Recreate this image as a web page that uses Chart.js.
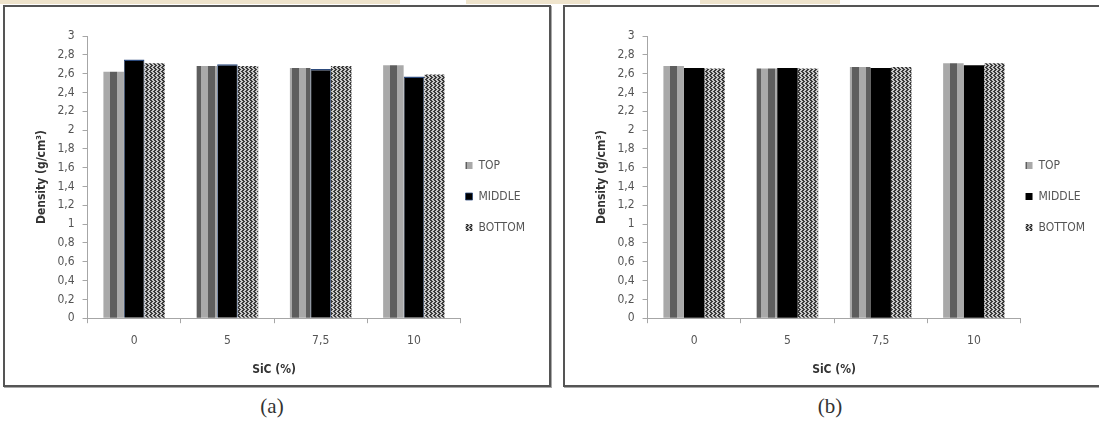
<!DOCTYPE html>
<html>
<head>
<meta charset="utf-8">
<script src="https://cdn.jsdelivr.net/npm/chart.js@4.4.1/dist/chart.umd.min.js"></script>
<style>
   body { margin: 0; width: 1099px; height: 431px; overflow: hidden; background: #fff; position: relative; }
   .strip { position: absolute; top: 0; height: 4px; background: #efe4cc; }
   .panel { position: absolute; top: 5px; width: 548px; height: 382px; box-sizing: border-box; border: 2px solid #555; box-shadow: 1px 1px 0 #aaa; }
   .panel canvas { position: absolute; left: 0; top: 0; }
   .cap { position: absolute; top: 394px; width: 60px; text-align: center; font-family: "Liberation Serif", serif; font-size: 21px; color: #333; }
</style>
</head>
<body>
<div class="strip" style="left:0;width:400px"></div>
<div class="strip" style="left:466px;width:124px"></div>
<div class="strip" style="left:700px;width:140px"></div>

<div class="panel" style="left:3px"><canvas id="chartA" width="544" height="378"></canvas></div>
<div class="panel" style="left:563px"><canvas id="chartB" width="544" height="378"></canvas></div>
<div class="cap" style="left:242px">(a)</div>
<div class="cap" style="left:800px">(b)</div>

<script>
// SiC content categories
const sicLabels = ["0", "5", "7,5", "10"];
const seriesNames = ["TOP", "MIDDLE", "BOTTOM"];

// panel (a)
const topA = [2.62, 2.68, 2.66, 2.69];
const middleA = [2.75, 2.70, 2.65, 2.57];
const bottomA = [2.71, 2.68, 2.68, 2.59];

// panel (b)
const topB = [2.68, 2.655, 2.67, 2.71];
const middleB = [2.66, 2.66, 2.66, 2.69];
const bottomB = [2.655, 2.655, 2.67, 2.71];

const narrow = "'Liberation Sans Narrow', 'DejaVu Sans Condensed', Arial, sans-serif";

function makePattern(w, h, paint) {
   let c = document.createElement("canvas");
   c.width = w;
   c.height = h;
   let g = c.getContext("2d");
   paint(g);
   return g.createPattern(c, "repeat");
}

// grey vertical stripes for TOP
const stripes = makePattern(14, 1, g => {
   g.fillStyle = "#a9a9a9";
   g.fillRect(0, 0, 7, 1);
   g.fillStyle = "#5e5e5e";
   g.fillRect(7, 0, 7, 1);
});

// small zigzag for BOTTOM
const zig = [0, 1, 2, 1];
const checks = makePattern(4, 4, g => {
   g.fillStyle = "#c8c8c8";
   g.fillRect(0, 0, 4, 4);
   g.fillStyle = "#3a3a3a";
   for (let y = 0; y < 4; y++) {
      for (let x = 0; x < 4; x++) {
         if ((x - zig[y] + 4) % 4 < 2) g.fillRect(x, y, 1, 1);
      }
   }
});

// move the legend next to the plot, like the original
const nudgeLegend = {
   id: "nudgeLegend",
   afterLayout(chart) {
      let lg = chart.legend;
      lg.left -= 14; lg.right -= 14;
      lg.top -= 10; lg.bottom -= 10;
   }
};

function makeChart(id, topVals, midVals, botVals, midBorder) {
   let ctx = document.getElementById(id).getContext("2d");
   return new Chart(ctx, {
      type: "bar",
      data: {
         labels: sicLabels,
         datasets: [{
            label: seriesNames[0],
            data: topVals,
            backgroundColor: stripes
         }, {
            label: seriesNames[1],
            data: midVals,
            backgroundColor: "#000",
            borderColor: "#2c4a7c",
            borderWidth: midBorder ? { top: 1.5, left: 0.8, right: 0.8, bottom: 0 } : 0
         }, {
            label: seriesNames[2],
            data: botVals,
            backgroundColor: checks
         }]
      },
      options: {
         responsive: false,
         animation: false,
         layout: { padding: { left: 30, top: 29, right: 0, bottom: 8 } },
         datasets: { bar: { categoryPercentage: 0.66, barPercentage: 1 } },
         scales: {
            x: {
               grid: { drawOnChartArea: false, color: "#a6a6a6", tickLength: 5 },
               border: { color: "#a6a6a6" },
               ticks: { color: "#555", font: { family: narrow, size: 12 }, padding: 10 },
               title: { display: true, text: "SiC (%)", color: "#333", font: { family: narrow, size: 12, weight: "bold" }, padding: { top: 5, bottom: 0 } }
            },
            y: {
               min: 0,
               max: 3,
               grid: { drawOnChartArea: false, color: "#a6a6a6", tickLength: 5 },
               border: { color: "#a6a6a6" },
               ticks: {
                  stepSize: 0.2,
                  autoSkip: false,
                  color: "#555",
                  font: { family: narrow, size: 12 },
                  padding: 8,
                  callback: v => String(Math.round(v * 10) / 10).replace(".", ",")
               },
               title: { display: true, text: "Density (g/cm³)", color: "#333", font: { family: narrow, size: 12, weight: "bold" }, padding: { top: 0, bottom: 0 } }
            }
         },
         plugins: {
            legend: {
               position: "right",
               labels: { boxWidth: 7, boxHeight: 7, padding: 19, color: "#555", font: { family: narrow, size: 12 } }
            },
            tooltip: { enabled: false }
         }
      },
      plugins: [nudgeLegend]
   });
}

makeChart("chartA", topA, middleA, bottomA, true);
makeChart("chartB", topB, middleB, bottomB, false);
</script>
</body>
</html>
